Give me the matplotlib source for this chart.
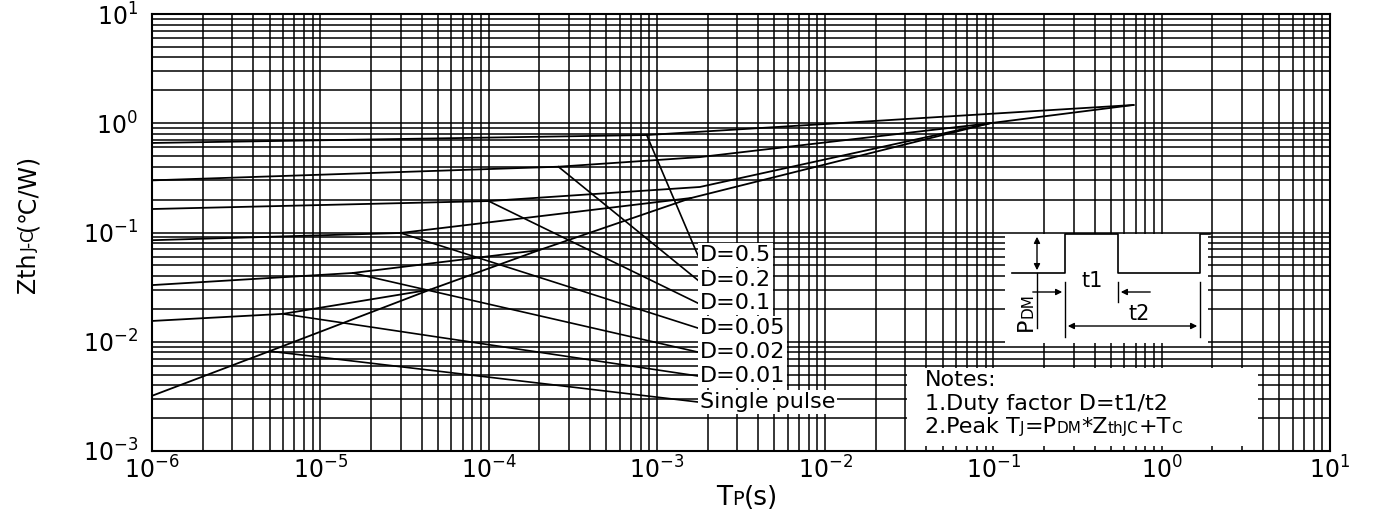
import math
import matplotlib
matplotlib.use("Agg")
import matplotlib.pyplot as plt
from matplotlib.ticker import FixedLocator, FuncFormatter, NullFormatter

W, H = 1373, 515
plt.rcParams['font.family'] = ['DejaVu Sans']
plt.rcParams['mathtext.fontset'] = 'dejavusans'

# ---------------- data ----------------
x_min, x_max = 1e-6, 1e1
y_min, y_max = 1e-3, 1e1
x_decades = [-6, -5, -4, -3, -2, -1, 0, 1]
y_decades = [-3, -2, -1, 0, 1]

labels = ['D=0.5', 'D=0.2', 'D=0.1', 'D=0.05', 'D=0.02', 'D=0.01', 'Single pulse']

t_d05 = [1e-6, 8.7e-4, 0.68]
z_d05 = [0.66, 0.78, 1.47]

t_d02 = [1e-6, 2.6e-4, 1.8e-3, 0.095]
z_d02 = [0.30, 0.40, 0.49, 1.0]

t_d01 = [1e-6, 1.0e-4, 1.8e-3, 0.095]
z_d01 = [0.164, 0.194, 0.261, 1.0]

t_d005 = [1e-6, 3.0e-5, 1.6e-3]
z_d005 = [0.085, 0.099, 0.207]

t_d002 = [1e-6, 1.56e-5, 2.0e-4]
z_d002 = [0.033, 0.0426, 0.069]

t_d001 = [1e-6, 6.0e-6, 4.5e-5]
z_d001 = [0.0155, 0.018, 0.030]

t_single = [1e-6, 5.0e-6, 4.5e-5, 2.0e-4, 1.6e-3, 0.095, 0.68]
z_single = [0.0032, 0.0082, 0.030, 0.069, 0.207, 1.0, 1.47]

# leader lines: start on curve -> label
leader_t = [8.7e-4, 2.6e-4, 1.0e-4, 3.0e-5, 1.56e-5, 6.0e-6, 5.0e-6]
leader_z = [0.78, 0.40, 0.194, 0.099, 0.0426, 0.018, 0.0082]
label_t = 1.75e-3
label_z = [0.0622, 0.0367, 0.0226, 0.01336, 0.00805, 0.00486, 0.00281]

curves_t = [t_d05, t_d02, t_d01, t_d005, t_d002, t_d001, t_single]
curves_z = [z_d05, z_d02, z_d01, z_d005, z_d002, z_d001, z_single]

# inset pulse diagram (pixel coordinates of the small schematic)
pulse_x = [1012, 1065, 1065, 1118, 1118, 1200, 1200, 1210]
pulse_y = [273, 273, 234, 234, 273, 273, 234, 234]

# ---------------- figure ----------------
fig = plt.figure(figsize=(W / 100, H / 100), dpi=100)
ax = fig.add_axes([152 / W, 1 - 451 / H, (1330 - 152) / W, (451 - 14) / H])
ax.set_xscale('log')
ax.set_yscale('log')
ax.set_xlim(x_min, x_max)
ax.set_ylim(y_min, y_max)


def minors(decs):
    return [m * 10.0 ** d for d in decs[:-1] for m in range(2, 10)]


fmt = FuncFormatter(lambda v, p: r'$\mathregular{10^{%d}}$' % round(math.log10(v)))
ax.xaxis.set_major_locator(FixedLocator([10.0 ** d for d in x_decades]))
ax.yaxis.set_major_locator(FixedLocator([10.0 ** d for d in y_decades]))
ax.xaxis.set_minor_locator(FixedLocator(minors(x_decades)))
ax.yaxis.set_minor_locator(FixedLocator(minors(y_decades)))
for axis in (ax.xaxis, ax.yaxis):
    axis.set_major_formatter(fmt)
    axis.set_minor_formatter(NullFormatter())

ax.grid(which='both', color='black', linewidth=1.1)
ax.tick_params(which='both', length=0, labelsize=17)
ax.tick_params(axis='y', pad=10)
ax.tick_params(axis='x', pad=4)
for s in ax.spines.values():
    s.set_linewidth(1.5)
    s.set_color('black')

for tt, zz in zip(curves_t, curves_z):
    ax.plot(tt, zz, color='black', lw=1.3, zorder=3)

for lt, lz, yz, lab in zip(leader_t, leader_z, label_z, labels):
    ax.plot([lt, label_t], [lz, yz], color='black', lw=1.2, zorder=3)
    ax.text(label_t * 1.03, yz, lab, fontsize=16, va='center', ha='left', zorder=5,
            bbox=dict(facecolor='white', edgecolor='none', pad=1.5))

renderer = fig.canvas.get_renderer()


def chain(pieces, px, py, rot=0):
    x, y = px, H - py
    for s, fs in pieces:
        t = fig.text(x / W, y / H, s, fontsize=fs, rotation=rot, rotation_mode='anchor',
                     ha='left', va='baseline', zorder=10)
        bb = t.get_window_extent(renderer)
        if rot == 0:
            x += bb.width
        else:
            y += bb.height


# axis labels
chain([('Zth', 17), ('J-C', 12), ('(℃/W)', 17)], 35, 293, rot=90)
chain([('T', 19), ('P', 14), ('(s)', 19)], 716, 505)

# inset pulse schematic
ins = fig.add_axes([1005 / W, 1 - 343 / H, (1208 - 1005) / W, (343 - 233.5) / H], zorder=6)
ins.set_xlim(1005, 1208)
ins.set_ylim(343, 233.5)
ins.set_xticks([])
ins.set_yticks([])
for s in ins.spines.values():
    s.set_visible(False)
ins.plot(pulse_x, pulse_y, color='black', lw=1.2, clip_on=False)
ins.annotate('', xy=(1037, 234), xytext=(1037, 273),
             arrowprops=dict(arrowstyle='<|-|>', color='black', lw=1, mutation_scale=9))
ins.plot([1037, 1037], [273, 328], color='black', lw=1)
ins.plot([1065, 1065], [282, 337], color='black', lw=1)
ins.plot([1118, 1118], [282, 302], color='black', lw=1)
ins.plot([1200, 1200], [282, 337], color='black', lw=1)
ins.annotate('', xy=(1065, 292), xytext=(1030, 292),
             arrowprops=dict(arrowstyle='-|>', color='black', lw=1, mutation_scale=9))
ins.annotate('', xy=(1118, 292), xytext=(1153, 292),
             arrowprops=dict(arrowstyle='-|>', color='black', lw=1, mutation_scale=9))
ins.annotate('', xy=(1065, 326), xytext=(1200, 326),
             arrowprops=dict(arrowstyle='<|-|>', color='black', lw=1, mutation_scale=9))
ins.text(1092, 281, 't1', fontsize=15, ha='center', va='center')
ins.text(1139, 314, 't2', fontsize=15, ha='center', va='center')
chain([('P', 16), ('DM', 11)], 1032, 331, rot=90)

# notes box
nb = fig.add_axes([907 / W, 1 - 446 / H, (1258 - 907) / W, (446 - 368) / H], zorder=6)
nb.set_xticks([])
nb.set_yticks([])
for s in nb.spines.values():
    s.set_visible(False)
chain([('Notes:', 16)], 925, 386)
chain([('1.Duty factor D=t1/t2', 16)], 925, 410)
chain([('2.Peak T', 16), ('J', 11), ('=P', 16), ('DM', 11), ('*Z', 16), ('thJC', 11),
       ('+T', 16), ('C', 11)], 925, 433)

fig.savefig('out.png', dpi=100)
